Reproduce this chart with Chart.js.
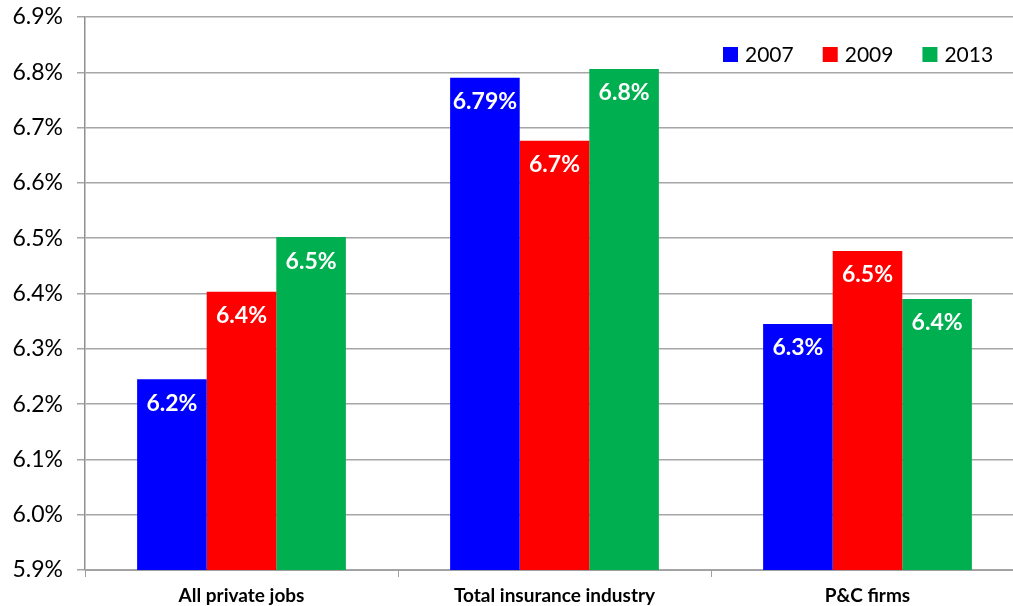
<!DOCTYPE html>
<html>
<head>
<meta charset="utf-8">
<script src="https://cdn.jsdelivr.net/npm/chart.js@4/dist/chart.umd.min.js"></script>
<style>
  html, body { margin: 0; padding: 0; background: #fff; overflow: hidden; }
  #wrap { width: 1024px; height: 606px; }
</style>
</head>
<body>
<div id="wrap"><canvas id="c" width="1024" height="606"></canvas></div>
<script>
// Categories and series (percent of jobs)
const categories = ['All private jobs', 'Total insurance industry', 'P&C firms'];
const years = ['2007', '2009', '2013'];
const values2007 = [6.245, 6.79, 6.345];
const values2009 = [6.403, 6.676, 6.477];
const values2013 = [6.502, 6.806, 6.39];
// Decimal places shown in each bar's value label
const decimals2007 = [1, 2, 1];
const decimals2009 = [1, 1, 1];
const decimals2013 = [1, 1, 1];
// Value axis range
const yMin = 5.9;
const yMax = 6.9;
const yStep = 0.1;

const colors = ['#0000FF', '#FF0000', '#00B050'];
const FONT = 'Lato, "Open Sans", sans-serif';

const seriesValues = [values2007, values2009, values2013];
const seriesDecimals = [decimals2007, decimals2009, decimals2013];

const barLabels = {
  id: 'barLabels',
  afterDatasetsDraw(chart) {
    const ctx = chart.ctx;
    ctx.save();
    ctx.fillStyle = '#ffffff';
    ctx.font = 'bold 23px ' + FONT;
    ctx.textAlign = 'center';
    ctx.textBaseline = 'middle';
    chart.data.datasets.forEach((ds, di) => {
      const meta = chart.getDatasetMeta(di);
      meta.data.forEach((bar, i) => {
        const v = ds.data[i];
        const txt = v.toFixed(seriesDecimals[di][i]) + '%';
        ctx.fillText(txt, bar.x, bar.y + 24);
      });
    });
    ctx.restore();
  }
};

const boxLegend = {
  id: 'boxLegend',
  afterDraw(chart) {
    const ctx = chart.ctx;
    ctx.save();
    ctx.font = '21px ' + FONT;
    ctx.textBaseline = 'middle';
    ctx.textAlign = 'left';
    let x = 723;
    const y = 55;
    chart.data.datasets.forEach((ds) => {
      ctx.fillStyle = ds.backgroundColor;
      ctx.fillRect(x, y - 8, 15, 15);
      ctx.fillStyle = '#000000';
      ctx.fillText(ds.label, x + 22, y);
      x += 22 + ctx.measureText(ds.label).width + 29;
    });
    ctx.restore();
  }
};

new Chart(document.getElementById('c'), {
  type: 'bar',
  data: {
    labels: categories,
    datasets: years.map((yr, i) => ({
      label: yr,
      data: seriesValues[i],
      backgroundColor: colors[i],
      borderWidth: 0,
      barPercentage: 1.0,
      categoryPercentage: 0.667
    }))
  },
  options: {
    responsive: false,
    animation: false,
    devicePixelRatio: 1,
    layout: { padding: { top: 17, left: 0, right: 0, bottom: 0 } },
    plugins: {
      legend: { display: false },
      tooltip: { enabled: false }
    },
    scales: {
      x: {
        grid: {
          offset: true,
          drawOnChartArea: false,
          drawTicks: true,
          tickLength: 7,
          color: '#a0a0a0'
        },
        border: { display: true, color: '#a0a0a0', width: 1 },
        ticks: {
          color: '#000000',
          font: { family: FONT, size: 19, weight: 'bold' },
          padding: 7
        },
        afterFit(scale) { scale.height = 36; }
      },
      y: {
        min: yMin,
        max: yMax,
        ticks: {
          stepSize: yStep,
          color: '#000000',
          font: { family: FONT, size: 23 },
          padding: 14,
          callback: (v) => Number(v).toFixed(1) + '%'
        },
        grid: {
          color: '#a6a6a6',
          lineWidth: 1.5,
          drawTicks: true,
          tickLength: 8
        },
        border: { display: true, color: '#909090', width: 1.5 },
        afterFit(scale) {
          scale.width = 85;
          scale.paddingTop = 0;
          scale.paddingBottom = 0;
        }
      }
    }
  },
  plugins: [barLabels, boxLegend]
});
</script>
</body>
</html>
